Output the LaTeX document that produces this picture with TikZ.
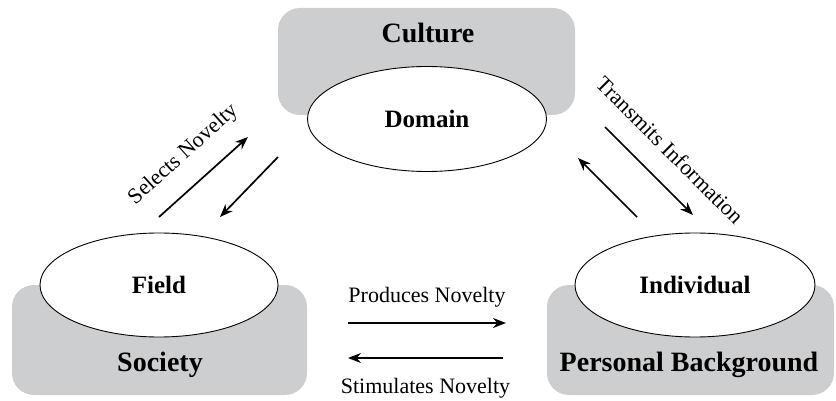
\documentclass[tikz,border=0pt]{standalone}
\usepackage{fontspec}
\setmainfont{Liberation Serif}
\usetikzlibrary{shapes.geometric}
\usetikzlibrary{arrows.meta}
\tikzset{>={Stealth[length=13pt,width=10pt]}}
\definecolor{ctxgray}{RGB}{205,206,208}
\tikzset{
  ctxbox/.style={fill=ctxgray, rounded corners=22pt, inner sep=0pt},
  ctxtitle/.style={font=\fontsize{28}{30}\selectfont\bfseries},
  sysnode/.style={ellipse, draw, line width=0.9pt, fill=white, inner sep=0pt,
    font=\fontsize{25}{27}\selectfont\bfseries},
  flow/.style={line width=1.7pt, ->},
  flowlabel/.style={inner sep=2pt, font=\fontsize{22}{24}\selectfont}
}

\begin{document}
\begin{tikzpicture}[x=1pt, y=-1pt]
            \useasboundingbox (0, 0) rectangle (836, 401);
            % grey context boxes
            \node[ctxbox, minimum width=297pt, minimum height=107pt] (cultureBox) at (426.5, 61.5) {};
            \node[ctxbox, minimum width=295pt, minimum height=110pt] (societyBox) at (159.5, 340) {};
            \node[ctxbox, minimum width=287pt, minimum height=110pt] (backgroundBox) at (690.5, 340) {};
            \node[ctxtitle] (culture) at (428, 33) {Culture};
            \node[ctxtitle] (society) at (160, 365) {Society};
            \node[ctxtitle] (background) at (689, 365) {Personal Background};
            % the three systems
            \node[sysnode, minimum width=239pt, minimum height=105pt] (domain) at (427, 119) {Domain};
            \node[sysnode, minimum width=238pt, minimum height=104pt] (field) at (159, 285) {Field};
            \node[sysnode, minimum width=240pt, minimum height=104pt] (individual) at (695, 285) {Individual};
            % arrow ends
            \coordinate (selTail) at (159, 217);
            \coordinate (selHead) at (248, 137);
            \coordinate (fbTail) at (278, 157);
            \coordinate (fbHead) at (220, 217);
            \coordinate (trTail) at (605, 127);
            \coordinate (trHead) at (693, 215);
            \coordinate (upTail) at (637, 217);
            \coordinate (upHead) at (578, 158);
            \coordinate (prTail) at (348, 323);
            \coordinate (prHead) at (506, 323);
            \coordinate (stTail) at (503, 358);
            \coordinate (stHead) at (348, 358);
            \draw[flow] (selTail) -- (selHead) node[flowlabel, midway, sloped, above=17pt] (selects) {Selects Novelty};
            \draw[flow] (fbTail) -- (fbHead);
            \draw[flow] (trTail) -- (trHead) node[flowlabel, midway, sloped, above=19pt] (transmits) {Transmits Information};
            \draw[flow] (upTail) -- (upHead);
            \draw[flow] (prTail) -- (prHead) node[flowlabel, midway, above=13pt] (produces) {Produces Novelty};
            \draw[flow] (stTail) -- (stHead) node[flowlabel, midway, below=17pt] (stimulates) {Stimulates Novelty};
        \end{tikzpicture}
\end{document}
